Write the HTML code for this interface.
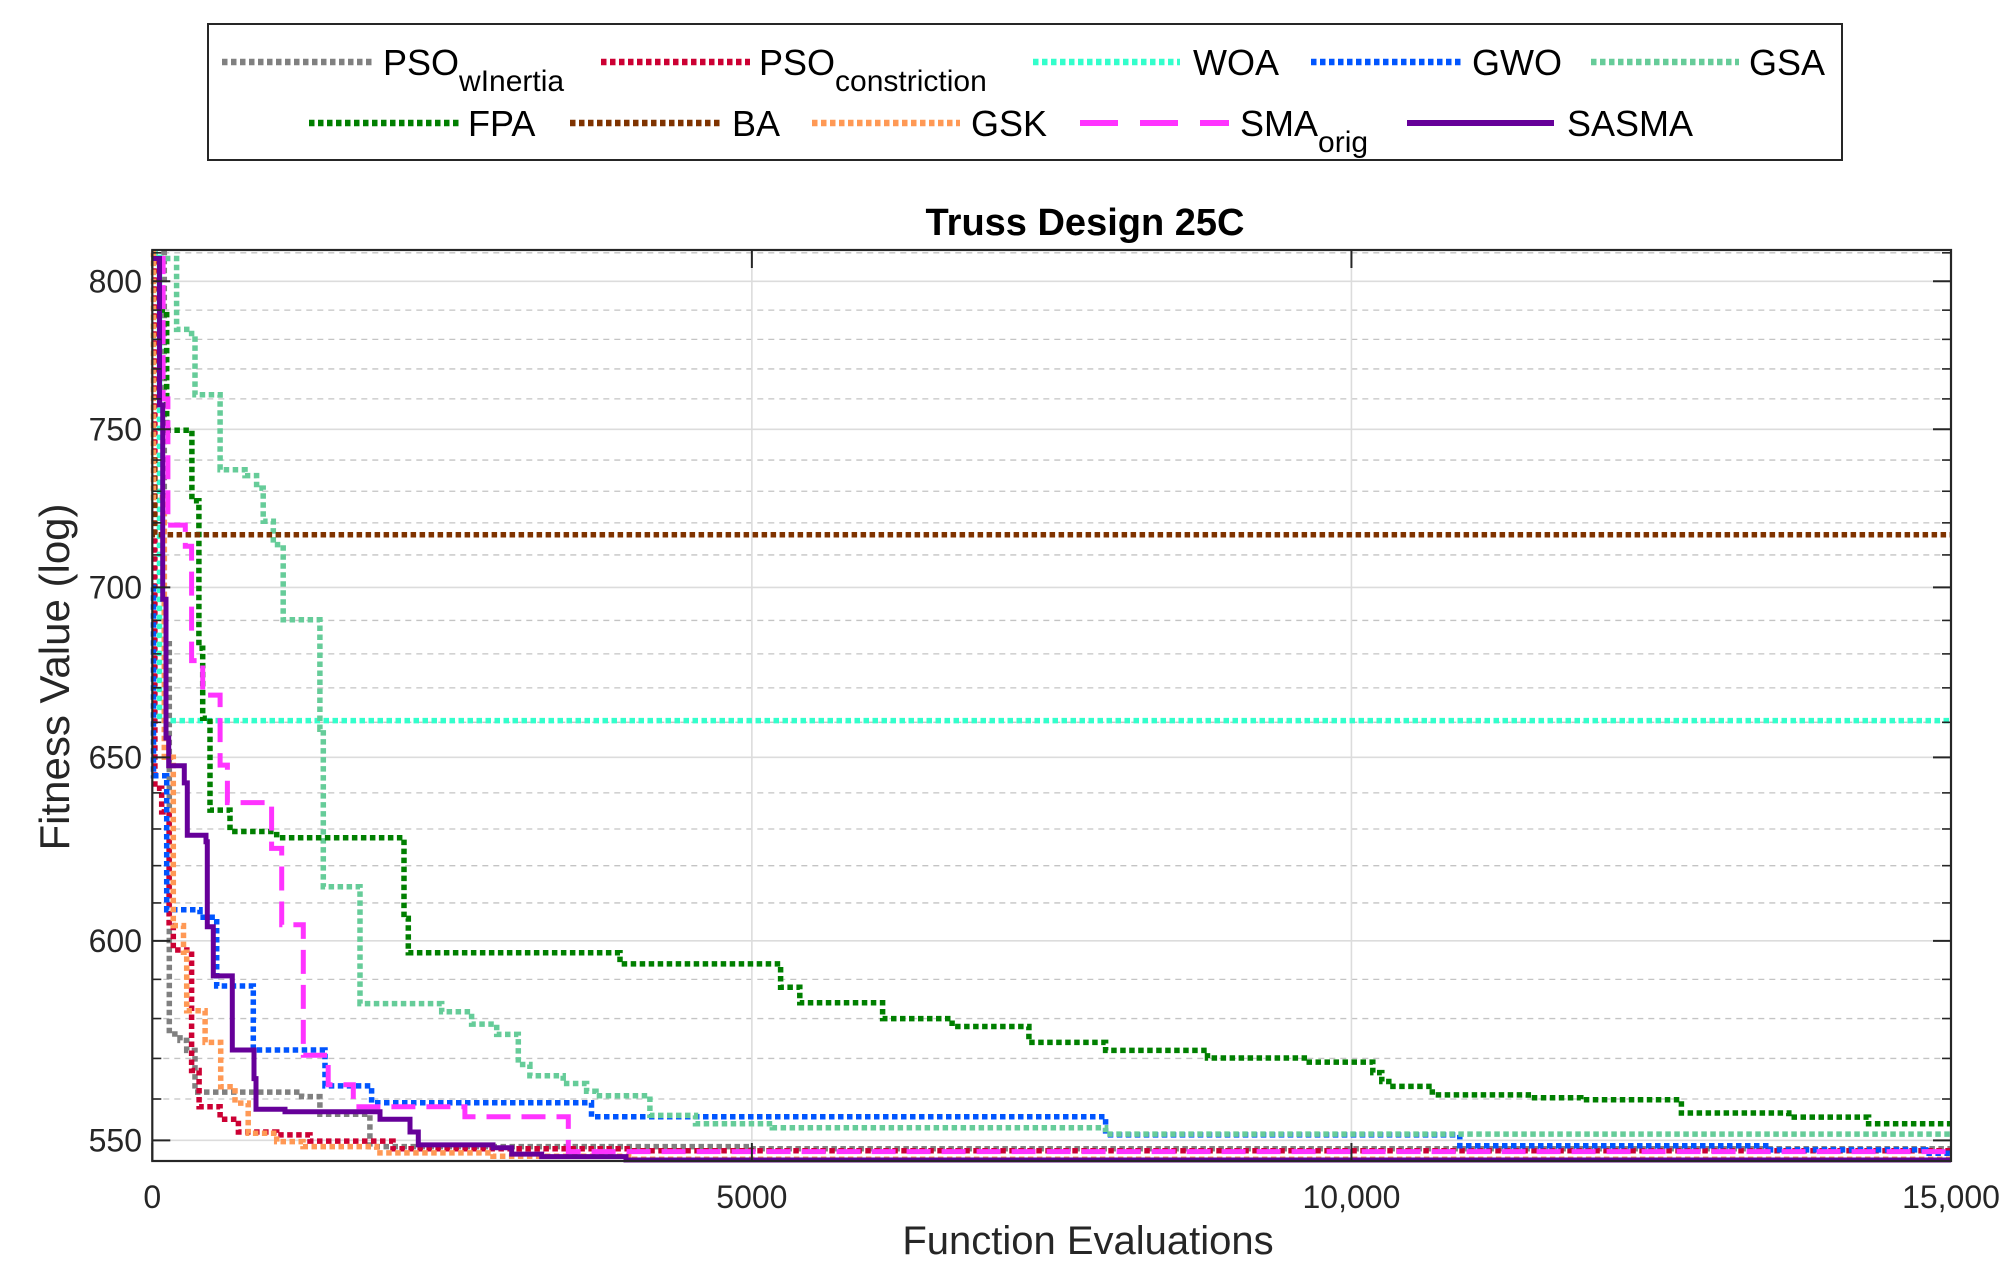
<!DOCTYPE html>
<html><head><meta charset="utf-8"><style>
html,body{margin:0;padding:0;background:#fff;}
svg{display:block;font-family:"Liberation Sans",Arial,sans-serif;}
</style></head><body>
<svg id="chart" width="2013" height="1273" viewBox="0 0 2013 1273" xmlns="http://www.w3.org/2000/svg">
<rect x="0" y="0" width="2013" height="1273" fill="#fff"/>
<g id="grid"></g>
<g id="series"></g>
<g id="axes"></g>
<text x="1085" y="235" text-anchor="middle" font-size="38" font-weight="bold">Truss Design 25C</text>
<text x="1088" y="1254" text-anchor="middle" font-size="40" fill="#262626">Function Evaluations</text>
<text transform="translate(69,677) rotate(-90)" text-anchor="middle" font-size="42" fill="#262626">Fitness Value (log)</text>
<g id="legend"></g>
</svg>
<script>
const NS="http://www.w3.org/2000/svg";
// ---- data ----
const xTicks=[0,5000,10000,15000];
const xTickLabels=["0","5000","10,000","15,000"];
const yMajor=[550,600,650,700,750,800];
const yMinor=[560,570,580,590,610,620,630,640,660,670,680,690,710,720,730,740,760,770,780,790,810];
const seriesNames=["PSO_wInertia","PSO_constriction","WOA","GWO","GSA","FPA","BA","GSK","SMA_orig","SASMA"];
const psoWX=[0,100,142,231,287,356,1245,1398,1815,5000];
const psoWY=[810,683,576.1,574.5,572,561.7,560.6,556.3,548.5,548];
const psoCX=[0,22,78,140,175,328,390,565,718,1037,1315,2007,4000];
const psoCY=[810,641.3,634.7,604,597.6,567,558.1,555.1,552,551.3,549.8,548,547.5];
const woaX=[0,60];
const woaY=[810,660.5];
const gwoX=[0,10,120,398,537,842,1440,1829,3663,7950,10904,13494,14789];
const gwoY=[700,644.8,608.2,606.2,588.3,572.1,563.2,559.1,555.7,551.3,548.7,547.7,546.9];
const gsaX=[30,203,328,356,565,773,870,925,1009,1092,1398,1426,1732,2413,2663,2872,3052,3149,3427,3622,3700,4150,4530,5170,7950];
const gsaY=[808,783.4,781,761.4,736.9,735,731,720.5,713.2,690.2,658,614.3,583.8,581.7,578.6,576,568.5,565.7,563.8,561.9,560.8,556,554,553,551.5];
const fpaX=[60,120,330,389,420,481,648,1037,2099,2135,3900,5240,5400,6090,6670,7310,7950,8800,9607,10178,10253,10312,10674,11475,11913,12752,13647,14313];
const fpaY=[790,749.7,727,681.7,661.2,635.2,629.3,627.6,605.9,596.9,594,588,584,580,578,574,572,570.1,569.1,566.5,564.3,563.1,561,560.3,559.8,556.6,555.6,554];
const baX=[0,20];
const baY=[740,716.3];
const gskX=[0,10,100,175,260,287,440,570,690,800,1037,1257,1871,2841,4000];
const gskY=[810,728,650,604,597,582,574,563,559,551.7,549.7,548.5,547,546.2,545.5];
const smaX=[20,90,130,275,328,420,565,626,995,1079,1259,1467,1676,2607,3469];
const smaY=[808,760,719.3,712.7,678,667.9,647.8,637.3,624.7,604.2,570.8,563.5,558.1,555.7,547.3];
const sasmaX=[0,60,87,114,137,267,292,448,459,509,667,848,865,1107,1899,2149,2218,2841,2997,3247,3950];
const sasmaY=[808,758,696.4,655.5,647.6,642.8,628.3,626.5,603.7,590.9,572.1,565,557.5,556.9,555.1,552,548.9,548.2,546.7,546.1,545.3];

// ---- scales ----
const L=152.3,R=1951,T=250,B=1161;
const XMAX=15000;
const YTOP=811,YBOT=545.06;
function sx(v){return L+(v/XMAX)*(R-L);}
function sy(v){return T+(Math.log(YTOP)-Math.log(v))/(Math.log(YTOP)-Math.log(YBOT))*(B-T);}
function mk(tag,attrs,parent){const e=document.createElementNS(NS,tag);for(const k in attrs)e.setAttribute(k,attrs[k]);parent.appendChild(e);return e;}

const grid=document.getElementById('grid');
yMinor.forEach(v=>{const y=sy(v);
 const l=mk('line',{x1:L,x2:R,y1:y,y2:y,stroke:'#c4c4c4','stroke-width':1.3,'stroke-dasharray':'6 5'},grid);
 
 
});
yMajor.forEach(v=>{const y=sy(v);
 const l=mk('line',{x1:L,x2:R,y1:y,y2:y,stroke:'#dcdcdc','stroke-width':1.6},grid);
 
 
});
xTicks.slice(1,3).forEach(v=>{const x=sx(v);
 const l=mk('line',{x1:x,x2:x,y1:T,y2:B,stroke:'#dcdcdc','stroke-width':1.6},grid);
 
 
});

const styles={
 PSO_wInertia:{c:'#808080',d:'5.5 3.5',w:5.5},
 PSO_constriction:{c:'#cc0033',d:'5.5 3.5',w:5.5},
 WOA:{c:'#33ffcc',d:'5.5 3.5',w:5.5},
 GWO:{c:'#0055ff',d:'5.5 3.5',w:5.5},
 GSA:{c:'#66cc99',d:'5.5 3.5',w:5.5},
 FPA:{c:'#007f00',d:'5.5 3.5',w:5.5},
 BA:{c:'#7f3300',d:'5.5 3.5',w:5.5},
 GSK:{c:'#ff9955',d:'5.5 3.5',w:5.5},
 SMA_orig:{c:'#ff33ff',d:'24 11',w:5},
 SASMA:{c:'#660099',d:'',w:5}
};
const data={PSO_wInertia:[psoWX,psoWY],PSO_constriction:[psoCX,psoCY],WOA:[woaX,woaY],GWO:[gwoX,gwoY],GSA:[gsaX,gsaY],FPA:[fpaX,fpaY],BA:[baX,baY],GSK:[gskX,gskY],SMA_orig:[smaX,smaY],SASMA:[sasmaX,sasmaY]};
const sg=document.getElementById('series');
seriesNames.forEach(n=>{
 const [xs,ys]=data[n];const s=styles[n];
 let d='M'+sx(xs[0]).toFixed(1)+','+sy(ys[0]).toFixed(1);
 for(let i=1;i<xs.length;i++){d+=' H'+sx(xs[i]).toFixed(1)+' V'+sy(ys[i]).toFixed(1);}
 d+=' H'+sx(XMAX).toFixed(1);
 const p=mk('path',{d:d,fill:'none',stroke:s.c,'stroke-width':s.w},sg);
 if(s.d)p.setAttribute('stroke-dasharray',s.d);
 
 
});

const ax=document.getElementById('axes');
const box=mk('rect',{x:L,y:T,width:R-L,height:B-T,fill:'none',stroke:'#262626','stroke-width':2.2},ax);


yMajor.forEach(v=>{const y=sy(v);
 mk('line',{x1:L,x2:L+18,y1:y,y2:y,stroke:'#262626','stroke-width':2},ax);
 mk('line',{x1:R-18,x2:R,y1:y,y2:y,stroke:'#262626','stroke-width':2},ax);
 const t=mk('text',{x:142,y:y+11,'text-anchor':'end','font-size':32,fill:'#262626'},ax);
 t.textContent=String(v);
 
 
});
yMinor.forEach(v=>{const y=sy(v);
 mk('line',{x1:L,x2:L+9,y1:y,y2:y,stroke:'#262626','stroke-width':1.6},ax);
 mk('line',{x1:R-9,x2:R,y1:y,y2:y,stroke:'#262626','stroke-width':1.6},ax);
});
xTicks.forEach((v,i)=>{const x=sx(v);
 mk('line',{x1:x,x2:x,y1:B,y2:B-18,stroke:'#262626','stroke-width':2},ax);
 mk('line',{x1:x,x2:x,y1:T,y2:T+18,stroke:'#262626','stroke-width':2},ax);
 const t=mk('text',{x:x,y:1208,'text-anchor':'middle','font-size':32,fill:'#262626'},ax);
 t.textContent=xTickLabels[i];
 
 
});

// legend
const lg=document.getElementById('legend');
const lbox=mk('rect',{x:208,y:24,width:1634,height:136,fill:'#fff',stroke:'#262626','stroke-width':2},lg);


const legendRows=[
 ['PSO_wInertia',222,374,383,62,'PSO','wInertia'],
 ['PSO_constriction',601,750,759,62,'PSO','constriction'],
 ['WOA',1033,1180,1193,62,'WOA',''],
 ['GWO',1311,1461,1472,62,'GWO',''],
 ['GSA',1591,1739,1749,62,'GSA',''],
 ['FPA',309,459,468,123,'FPA',''],
 ['BA',570,721,732,123,'BA',''],
 ['GSK',812,960,971,123,'GSK',''],
 ['SMA_orig',1080,1229,1240,123,'SMA','orig'],
 ['SASMA',1407,1554,1567,123,'SASMA','']
];
legendRows.forEach(r=>{
 const s=styles[r[0]];
 const g=mk('g',{},lg);
 
 
 const ln=mk('line',{x1:r[1],x2:r[2],y1:r[4],y2:r[4],stroke:s.c,'stroke-width':s.w+1},g);
 if(r[0]==='SMA_orig')ln.setAttribute('stroke-dasharray','38 22');
 else if(s.d)ln.setAttribute('stroke-dasharray','5.5 3.5');
 const t=mk('text',{x:r[3],y:r[4]+13,'font-size':36,fill:'#000'},g);
 t.textContent=r[5];
 if(r[6]){const ts=mk('tspan',{dy:16,'font-size':30},t);ts.textContent=r[6];}
});
</script>
</body></html>
